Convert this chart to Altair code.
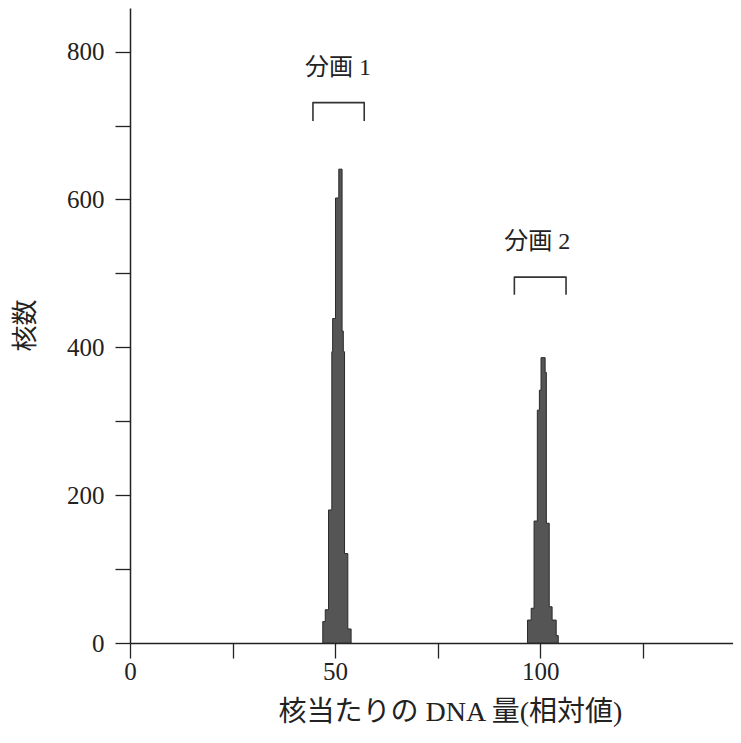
import altair as alt
import pandas as pd

# Histogram bins (left edges, counts; last edge closes the bin)
peak1_edges = [47.0, 47.6, 48.4, 49.2, 49.4, 50.1, 50.9, 51.7, 52.0, 52.3, 53.1, 53.9]
peak1_counts = [29, 45, 180, 394, 439, 602, 641, 422, 394, 121, 19]
peak2_edges = [96.9, 97.8, 98.5, 99.3, 99.8, 100.2, 101.2, 101.5, 102.2, 102.9, 103.9, 104.4]
peak2_counts = [31, 47, 165, 315, 342, 386, 366, 162, 49, 31, 10]

# Bracket annotations (x from, x to, top y, leg bottom y)
brackets = [("分画1", 44.6, 57.1, 731, 706), ("分画2", 93.7, 106.3, 495, 471)]
label_texts = ["分画 1", "分画 2"]
label_x = [50.7, 99.3]
label_y = [778, 543]

x_ticks = [0, 25, 50, 75, 100, 125]
y_ticks = [0, 100, 200, 300, 400, 500, 600, 700, 800]

FONT = "Liberation Serif, Noto Sans CJK JP"
INK = "#222222"

rows = []
for name, edges, counts in [("p1", peak1_edges, peak1_counts), ("p2", peak2_edges, peak2_counts)]:
    for e, c in zip(edges[:-1], counts):
        rows.append({"peak": name, "x": e, "n": c})
    rows.append({"peak": name, "x": edges[-1], "n": 0})
hist = pd.DataFrame(rows)

brows = []
for name, x0, x1, ytop, ybot in brackets:
    pts = [(x0, ybot), (x0, ytop), (x1, ytop), (x1, ybot)]
    for i, (bx, by) in enumerate(pts):
        brows.append({"b": name, "o": i, "x": bx, "y": by})
bdf = pd.DataFrame(brows)

ldf = pd.DataFrame({"t": label_texts, "x": label_x, "y": label_y})

xscale = alt.Scale(domain=[0, 147], nice=False, zero=False)
yscale = alt.Scale(domain=[0, 859], nice=False)

xaxis = alt.Axis(
    values=x_ticks,
    labelExpr="datum.value % 50 == 0 ? datum.label : ''",
    title="核当たりの DNA 量(相対値)",
    titleX=320, titleY=69, titleBaseline="middle", titleAlign="center",
    grid=False, tickSize=15, labelPadding=1, labelFlush=False,
    titleFontSize=28,
)
yaxis = alt.Axis(
    values=y_ticks,
    labelExpr="datum.value % 200 == 0 ? datum.label : ''",
    title="核数",
    titleX=-105, titleY=317, titleBaseline="middle", titleAlign="center", titleAngle=-90,
    grid=False, tickSize=15, labelPadding=11, labelFlush=False,
    titleFontSize=26,
)

area = alt.Chart(hist).mark_area(
    interpolate="step-after", color="#555555", stroke="#2a2a2a", strokeWidth=1
).encode(
    x=alt.X("x:Q", scale=xscale, axis=xaxis),
    y=alt.Y("n:Q", scale=yscale, axis=yaxis, stack=None),
    detail="peak:N",
)

br = alt.Chart(bdf).mark_line(color="#333333", strokeWidth=1.6, strokeJoin="round").encode(
    x=alt.X("x:Q", scale=xscale),
    y=alt.Y("y:Q", scale=yscale),
    detail="b:N",
    order="o:Q",
)

txt = alt.Chart(ldf).mark_text(font=FONT, fontSize=24, color=INK).encode(
    x=alt.X("x:Q", scale=xscale),
    y=alt.Y("y:Q", scale=yscale),
    text="t:N",
)

chart = alt.layer(area, br, txt).properties(
    width=603, height=635,
    padding={"left": 122, "top": 0, "right": 0, "bottom": 85},
    autosize="none",
    background="white",
).configure_view(stroke=None).configure_axis(
    domainColor=INK, domainWidth=1.5, tickColor=INK, tickWidth=1.3,
    labelFont=FONT, labelFontSize=25, labelColor=INK,
    titleFont=FONT, titleColor=INK, titleFontWeight="normal",
)

chart.save("out.html", embed_options={"renderer": "svg", "actions": False})
